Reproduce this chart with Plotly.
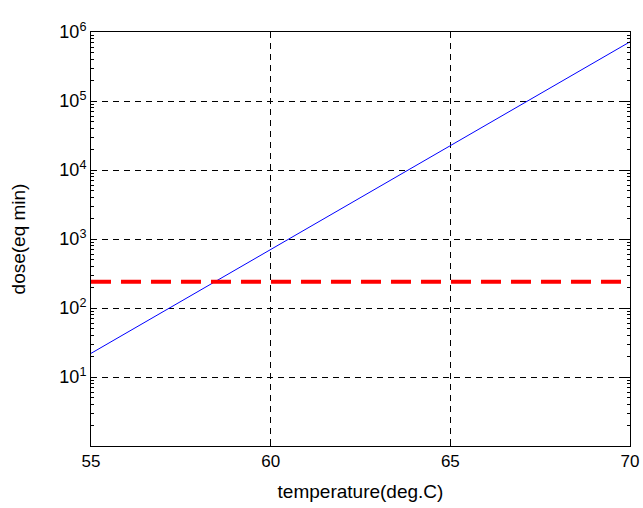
import plotly.graph_objects as go

# data
temperature = [55, 56, 57, 58, 59, 60, 61, 62, 63, 64, 65, 66, 67, 68, 69, 70]
dose = [22, 44, 88, 176, 352, 704, 1410, 2820, 5630, 11300, 22500, 45100, 90100, 180000, 360000, 721000]
threshold_x = [55, 70]
threshold_y = [240, 240]
ytick_vals = [10, 100, 1000, 10000, 100000, 1000000]
ytick_text = ["10<sup>1</sup>", "10<sup>2</sup>", "10<sup>3</sup>", "10<sup>4</sup>", "10<sup>5</sup>", "10<sup>6</sup>"]
xtick_vals = [55, 60, 65, 70]
minor_vals = [m * 10 ** e for e in range(0, 6) for m in range(2, 10)]

font_family = "Liberation Sans, Arial, sans-serif"

fig = go.Figure()
fig.add_trace(go.Scatter(x=temperature, y=dose, mode="lines",
                         line=dict(color="#0000ff", width=1), showlegend=False))
fig.add_trace(go.Scatter(x=threshold_x, y=threshold_y, mode="lines",
                         line=dict(color="#ff0000", width=4, dash="20px,10px"), showlegend=False))

fig.update_layout(
    width=643, height=508,
    margin=dict(l=91, r=13, t=32, b=62),
    paper_bgcolor="white", plot_bgcolor="white",
    font=dict(family=font_family, size=16, color="black"),
)
fig.update_xaxes(
    range=[55, 70], tickvals=xtick_vals, ticks="inside", ticklen=5,
    tickfont=dict(size=17), automargin=False,
    tickcolor="black", showline=True, linecolor="black", linewidth=1, mirror="allticks",
    showgrid=True, gridcolor="black", griddash="6px,5px", gridwidth=1,
    zeroline=False, title=dict(text="temperature(deg.C)", standoff=14),
)
fig.update_yaxes(
    type="log", range=[0, 6], tickvals=ytick_vals, ticktext=ytick_text,
    tickfont=dict(size=18), automargin=False,
    ticks="inside", ticklen=5, tickcolor="black",
    minor=dict(tickmode="array", tickvals=minor_vals, ticks="inside", ticklen=3,
               tickcolor="black", showgrid=False),
    showline=True, linecolor="black", linewidth=1, mirror="allticks",
    showgrid=True, gridcolor="black", griddash="6px,5px", gridwidth=1,
    zeroline=False, title=dict(text="dose(eq min)", standoff=28),
)

fig.write_html("out.html")
